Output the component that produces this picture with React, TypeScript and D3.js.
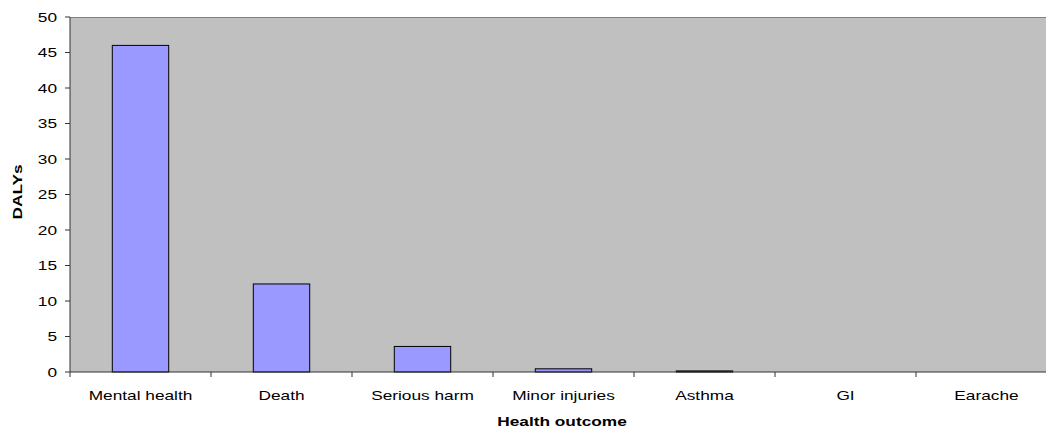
import React from "react";
import * as d3 from "d3";

const categories = ["Mental health", "Death", "Serious harm", "Minor injuries", "Asthma", "GI", "Earache"];
const values = [46, 12.4, 3.6, 0.45, 0.15, 0, 0];
const yTicks = [0, 5, 10, 15, 20, 25, 30, 35, 40, 45, 50];

const W = 1046;
const H = 431;
const left = 70;
const right = 1057;
const top = 17;
const bottom = 372;
const SX = 1.33;

export default function App() {
  const x = d3.scaleBand<string>().domain(categories).range([left, right]).paddingInner(0).paddingOuter(0);
  const y = d3.scaleLinear().domain([0, 50]).range([bottom, top]);
  const bw = x.bandwidth();
  const barW = bw * 0.4;
  const font = "Arial, 'Liberation Sans', sans-serif";
  return (
    <svg width={W} height={H} style={{ position: "absolute", left: 0, top: 0 }} fontFamily={font}>
      <rect x={left} y={top} width={right - left} height={bottom - top} fill="#C0C0C0" />
      <line x1={left} x2={right} y1={top + 0.5} y2={top + 0.5} stroke="#808080" strokeWidth={1} />
      {categories.map((c, i) => {
        const v = values[i];
        if (v <= 0) return null;
        const cx = (x(c) as number) + bw / 2;
        const y0 = y(v);
        return (
          <rect key={c} x={cx - barW / 2} y={y0} width={barW} height={bottom - y0} fill="#9999FF" stroke="#000" strokeWidth={1} />
        );
      })}
      {/* y axis */}
      <line x1={left} x2={left} y1={top} y2={bottom} stroke="#333" strokeWidth={1} />
      {yTicks.map((t) => (
        <g key={t}>
          <line x1={left - 5} x2={left} y1={y(t)} y2={y(t)} stroke="#333" />
          <text transform={`translate(${left - 13}, ${y(t)}) scale(${SX},1)`} dy="0.35em" textAnchor="end" fontSize={13} fill="#000">{t}</text>
        </g>
      ))}
      {/* x axis */}
      <line x1={left} x2={right} y1={bottom} y2={bottom} stroke="#333" strokeWidth={1} />
      {categories.map((c) => (
        <g key={c}>
          <line x1={x(c) as number} x2={x(c) as number} y1={bottom} y2={bottom + 5} stroke="#333" />
          <text transform={`translate(${(x(c) as number) + bw / 2}, ${bottom + 28}) scale(${SX},1)`} textAnchor="middle" fontSize={13} fill="#000">{c}</text>
        </g>
      ))}
      <text transform={`translate(562, 426) scale(${SX},1)`} textAnchor="middle" fontSize={13} fontWeight="bold" fill="#000">Health outcome</text>
      <text transform={`translate(22, 192) rotate(-90) scale(${SX},1)`} textAnchor="middle" fontSize={13} fontWeight="bold" fill="#000">DALYs</text>
    </svg>
  );
}
